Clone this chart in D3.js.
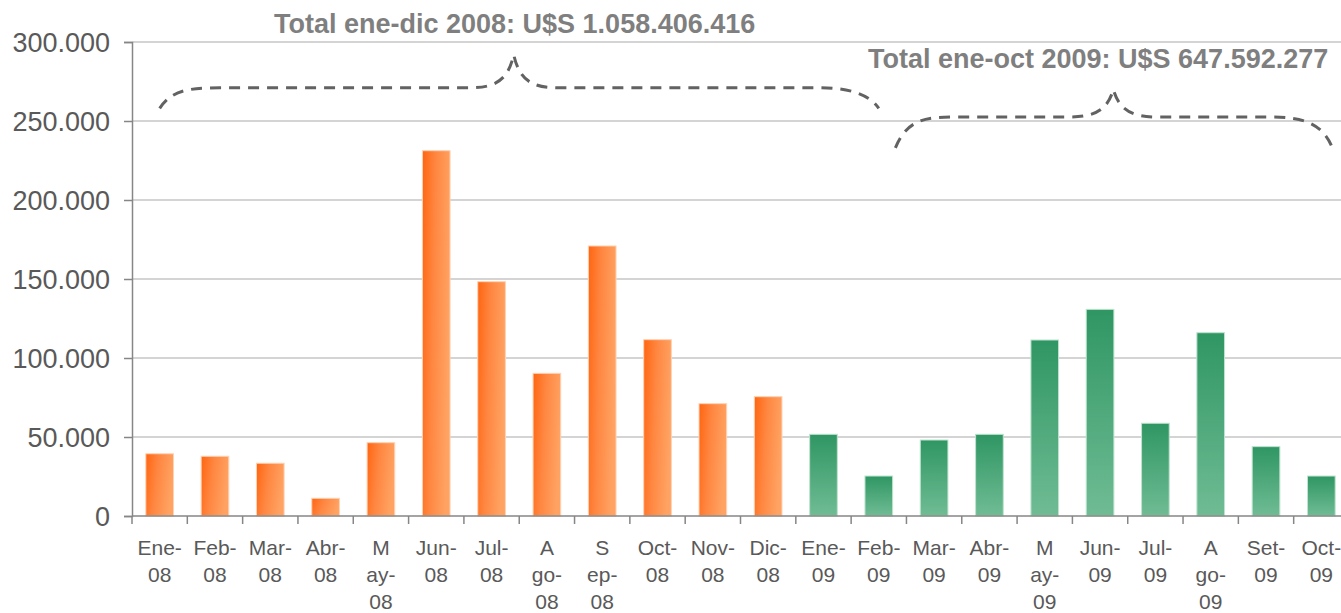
<!DOCTYPE html>
<html>
<head>
<meta charset="utf-8">
<script src="https://cdn.jsdelivr.net/npm/d3@7"></script>
<style>
  html, body { margin: 0; padding: 0; background: #fff; }
  svg { display: block; font-family: "Liberation Sans", Arial, sans-serif; }
</style>
</head>
<body>
<div id="container"></div>
<script>
// months (value in thousands of U$S)
const categories = ['Ene-08', 'Feb-08', 'Mar-08', 'Abr-08', 'May-08', 'Jun-08', 'Jul-08', 'Ago-08', 'Sep-08', 'Oct-08', 'Nov-08', 'Dic-08',
  'Ene-09', 'Feb-09', 'Mar-09', 'Abr-09', 'May-09', 'Jun-09', 'Jul-09', 'Ago-09', 'Set-09', 'Oct-09'];
const values = [39400, 37800, 33400, 11200, 46400, 231200, 148300, 90300, 170900, 111600, 71100, 75500,
  51700, 25300, 48100, 51700, 111400, 130800, 58700, 116000, 43900, 25300];
const years = ['2008', '2008', '2008', '2008', '2008', '2008', '2008', '2008', '2008', '2008', '2008', '2008',
  '2009', '2009', '2009', '2009', '2009', '2009', '2009', '2009', '2009', '2009'];
// wrapped tick labels as they appear under the axis
const tickLabels = [['Ene-', '08'], ['Feb-', '08'], ['Mar-', '08'], ['Abr-', '08'], ['M', 'ay-', '08'], ['Jun-', '08'], ['Jul-', '08'],
  ['A', 'go-', '08'], ['S', 'ep-', '08'], ['Oct-', '08'], ['Nov-', '08'], ['Dic-', '08'],
  ['Ene-', '09'], ['Feb-', '09'], ['Mar-', '09'], ['Abr-', '09'], ['M', 'ay-', '09'], ['Jun-', '09'], ['Jul-', '09'],
  ['A', 'go-', '09'], ['Set-', '09'], ['Oct-', '09']];
const yTicks = [0, 50000, 100000, 150000, 200000, 250000, 300000];
const totalLabels = ['Total ene-dic 2008: U$S 1.058.406.416', 'Total ene-oct 2009: U$S 647.592.277'];

const width = 1341;
const height = 613;
const margin = {top: 42, right: -8, bottom: 97, left: 132};

const svg = d3.select('#container').append('svg')
  .attr('width', width)
  .attr('height', height);

const x = d3.scaleBand()
  .domain(categories)
  .range([margin.left, width - margin.right])
  .paddingInner(0.5)
  .paddingOuter(0.25);

const xEdge = d3.scaleLinear()
  .domain([0, categories.length])
  .range([margin.left, width - margin.right]);

const y = d3.scaleLinear()
  .domain([0, 300000])
  .range([height - margin.bottom, margin.top]);

const locale = d3.formatLocale({decimal: ',', thousands: '.', grouping: [3], currency: ['', '']});
const fmt = locale.format(',.0f');

// gradients
const defs = svg.append('defs');
const orange = defs.append('linearGradient')
  .attr('id', 'orange')
  .attr('x1', '0%').attr('y1', '0%')
  .attr('x2', '100%').attr('y2', '25%');
orange.append('stop').attr('offset', '0%').attr('stop-color', '#ff6510');
orange.append('stop').attr('offset', '45%').attr('stop-color', '#ff8640');
orange.append('stop').attr('offset', '100%').attr('stop-color', '#ffa262');

const green = defs.append('linearGradient')
  .attr('id', 'green')
  .attr('x1', '0%').attr('y1', '0%')
  .attr('x2', '0%').attr('y2', '100%');
green.append('stop').attr('offset', '0%').attr('stop-color', '#2f9663');
green.append('stop').attr('offset', '100%').attr('stop-color', '#70bc94');

// grid
svg.append('g')
  .selectAll('line')
  .data(yTicks.filter(d => d > 0))
  .enter().append('line')
  .attr('x1', margin.left)
  .attr('x2', width)
  .attr('y1', d => y(d))
  .attr('y2', d => y(d))
  .style('stroke', '#c6c6c6')
  .style('stroke-width', '1.5px');

// bars
svg.append('g')
  .selectAll('rect')
  .data(values)
  .enter().append('rect')
  .attr('x', (d, i) => x(categories[i]))
  .attr('y', d => y(d))
  .attr('width', x.bandwidth())
  .attr('height', d => y(0) - y(d))
  .style('fill', (d, i) => years[i] === '2008' ? 'url(#orange)' : 'url(#green)')
  .style('stroke', (d, i) => years[i] === '2008' ? '#ffd2b4' : '#bfe3cf')
  .style('stroke-width', '1px');

// y axis
const yAxis = d3.axisLeft(y)
  .tickValues(yTicks)
  .tickSize(8)
  .tickPadding(14)
  .tickFormat(fmt);

const yg = svg.append('g')
  .attr('transform', 'translate(' + margin.left + ',0)')
  .call(yAxis);
yg.select('.domain').style('stroke', '#868686').style('stroke-width', '1.5px');
yg.selectAll('.tick line').style('stroke', '#868686').style('stroke-width', '1.5px');
yg.selectAll('.tick text')
  .style('font-size', '27px')
  .style('fill', '#595959')
  .attr('dy', '0.36em');

// x axis
svg.append('line')
  .attr('x1', margin.left)
  .attr('x2', width)
  .attr('y1', y(0))
  .attr('y2', y(0))
  .style('stroke', '#868686')
  .style('stroke-width', '1.5px');

svg.append('g')
  .selectAll('line')
  .data(d3.range(categories.length + 1))
  .enter().append('line')
  .attr('x1', d => xEdge(d))
  .attr('x2', d => xEdge(d))
  .attr('y1', y(0))
  .attr('y2', y(0) + 8)
  .style('stroke', '#868686')
  .style('stroke-width', '1.5px');

const xLabels = svg.append('g')
  .selectAll('text')
  .data(tickLabels)
  .enter().append('text')
  .attr('text-anchor', 'middle')
  .attr('transform', (d, i) => 'translate(' + (x(categories[i]) + x.bandwidth() / 2) + ',' + (y(0) + 39) + ')')
  .style('font-size', '21px')
  .style('fill', '#595959');

xLabels.selectAll('tspan')
  .data(d => d)
  .enter().append('tspan')
  .attr('x', 0)
  .attr('y', (d, i) => i * 27)
  .text(d => d);

// braces over each year, positions in band units / data values
const braces = [
  {from: 0.5, mid: 6.9, to: 13.5, low: 258000, flat: 271000, peak: 292000},
  {from: 13.8, mid: 17.74, to: 21.7, low: 233000, flat: 252500, peak: 270000}
];

braces.forEach((b, i) => {
  const x0 = xEdge(b.from);
  const xm = xEdge(b.mid);
  const x1 = xEdge(b.to);
  const yl = y(b.low);
  const yf = y(b.flat);
  const yp = y(b.peak);
  const p = d3.path();
  p.moveTo(x0, yl);
  p.bezierCurveTo(x0 + 12, yf + 2, x0 + 30, yf, x0 + 60, yf);
  p.lineTo(xm - 45, yf);
  p.bezierCurveTo(xm - 20, yf, xm - 6, yf - 6, xm, yp);
  p.bezierCurveTo(xm + 6, yf - 6, xm + 20, yf, xm + 45, yf);
  p.lineTo(x1 - 60, yf);
  p.bezierCurveTo(x1 - 30, yf, x1 - 10, yf + 6, x1, yl);
  svg.append('path')
    .attr('d', p.toString())
    .style('fill', 'none')
    .style('stroke', '#626262')
    .style('stroke-width', '3px')
    .style('stroke-dasharray', '11,8');
});

// totals
svg.append('text')
  .attr('x', 274)
  .attr('y', 33)
  .style('font-size', '27px')
  .style('font-weight', 'bold')
  .style('fill', '#7f7f7f')
  .text(totalLabels[0]);

svg.append('text')
  .attr('x', 868)
  .attr('y', 68)
  .style('font-size', '27px')
  .style('font-weight', 'bold')
  .style('fill', '#7f7f7f')
  .text(totalLabels[1]);
</script>
</body>
</html>
